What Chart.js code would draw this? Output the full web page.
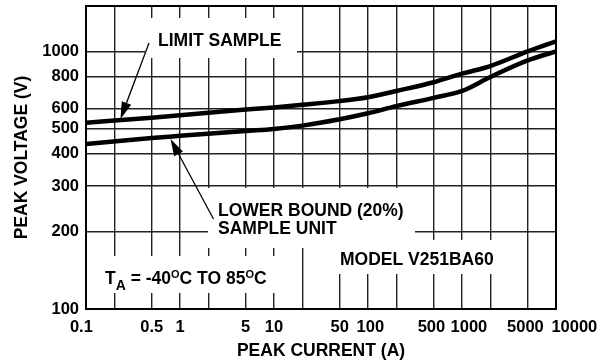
<!DOCTYPE html>
<html><head><meta charset="utf-8">
<script src="https://cdn.jsdelivr.net/npm/chart.js@4.4.1/dist/chart.umd.min.js"></script>
<style>html,body{margin:0;padding:0;background:#fff}</style>
</head><body>
<canvas id="c" width="610" height="362"></canvas>
<script>
// ---- data ----
const peakCurrent = [0.1, 0.5, 1, 5, 10, 20, 50, 100, 200, 500, 1000, 2000, 5000, 10000];
const limitSample = [528, 553, 565, 595, 606, 620, 641, 664, 702, 759, 819, 877, 1000, 1094];
const lowerBound  = [437, 461, 470, 491, 500, 515, 545, 575, 613, 660, 702, 795, 922, 1000];
const xTickValues = [0.1, 0.2, 0.5, 1, 2, 5, 10, 20, 50, 100, 200, 500, 1000, 2000, 5000, 10000];
const xTickLabels = ['0.1', '', '0.5', '1', '', '5', '10', '', '50', '100', '', '500', '1000', '', '5000', '10000'];
const yTickValues = [100, 200, 300, 400, 500, 600, 800, 1000];
const yTickLabels = ['100', '200', '300', '400', '500', '600', '800', '1000'];

const FAM = '"Liberation Sans", Arial, Helvetica, sans-serif';

// style: nudge of x tick labels as in the reference (spaces; + = right, - = left)
const xLabelNudge = [-2, 0, 0, 0, 0, 0, 0, 0, 0, 1, 0, -1, 3, 0, -1, 8];
const nudge = (t, n) => n > 0 ? ' '.repeat(n) + t : n < 0 ? t + ' '.repeat(-n) : t;

// annotation layout (reference-pixel frame, mapped to the chart area)
const REF = {left: 86, top: 6, w: 470, h: 303};
const whiteBoxes = [[145, 18, 297, 58], [208, 188, 415, 248], [323, 240, 505, 274], [98, 256, 290, 293]];

const annot = {
  id: 'annot',
  beforeDatasetsDraw(chart) {
    const ctx = chart.ctx, ca = chart.chartArea;
    const X = px => ca.left + (px - REF.left) * ca.width / REF.w;
    const Y = py => ca.top + (py - REF.top) * ca.height / REF.h;
    ctx.save();
    ctx.fillStyle = '#fff';
    whiteBoxes.forEach(b => ctx.fillRect(X(b[0]), Y(b[1]), X(b[2]) - X(b[0]), Y(b[3]) - Y(b[1])));
    ctx.restore();
  },
  afterDatasetsDraw(chart) {
    const ctx = chart.ctx, ca = chart.chartArea;
    const X = px => ca.left + (px - REF.left) * ca.width / REF.w;
    const Y = py => ca.top + (py - REF.top) * ca.height / REF.h;
    ctx.save();
    // frame
    ctx.strokeStyle = '#000';
    ctx.lineWidth = 2;
    ctx.strokeRect(ca.left, ca.top, ca.width, ca.height);
    // arrows
    const arrow = (x1, y1, x2, y2) => {
      const ax = X(x1), ay = Y(y1), bx = X(x2), by = Y(y2);
      const ang = Math.atan2(by - ay, bx - ax);
      const L = 17, W = 5;
      const cx = bx - L * Math.cos(ang), cy = by - L * Math.sin(ang);
      ctx.lineWidth = 1.3;
      ctx.beginPath(); ctx.moveTo(ax, ay); ctx.lineTo(cx, cy); ctx.stroke();
      ctx.beginPath();
      ctx.moveTo(bx, by);
      ctx.lineTo(cx + W * Math.sin(ang), cy - W * Math.cos(ang));
      ctx.lineTo(cx - W * Math.sin(ang), cy + W * Math.cos(ang));
      ctx.closePath(); ctx.fill();
    };
    ctx.fillStyle = '#000';
    arrow(149, 43, 120.5, 119);
    arrow(213.5, 219, 170.5, 139);
    // texts
    ctx.textBaseline = 'alphabetic';
    ctx.textAlign = 'left';
    const big = 'bold 17.5px ' + FAM;
    ctx.font = big;
    ctx.fillText('LIMIT SAMPLE', X(158), Y(46));
    ctx.fillText('LOWER BOUND (20%)', X(218), Y(216));
    ctx.fillText('SAMPLE UNIT', X(218), Y(233.5));
    ctx.fillText('MODEL V251BA60', X(340), Y(265));
    // T_A = -40°C TO 85°C with sub/superscripts
    let x = X(105);
    const base = Y(284.3);
    const seg = (t, font, dy) => { ctx.font = font; ctx.fillText(t, x, base + dy); x += ctx.measureText(t).width; };
    seg('T', big, 0);
    seg('A', 'bold 14px ' + FAM, 5.5);
    seg(' = -40', big, 0);
    seg('O', 'bold 11px ' + FAM, -6.3);
    seg('C TO 85', big, 0);
    seg('O', 'bold 11px ' + FAM, -6.3);
    seg('C', big, 0);
    ctx.restore();
  }
};

const lineStyle = {borderColor: '#000', borderWidth: 4.5, pointRadius: 0, fill: false, cubicInterpolationMode: 'monotone'};

new Chart(document.getElementById('c'), {
  type: 'line',
  data: {
    datasets: [
      Object.assign({label: 'LIMIT SAMPLE', data: peakCurrent.map((v, i) => ({x: v, y: limitSample[i]}))}, lineStyle),
      Object.assign({label: 'LOWER BOUND (20%) SAMPLE UNIT', data: peakCurrent.map((v, i) => ({x: v, y: lowerBound[i]}))}, lineStyle)
    ]
  },
  options: {
    responsive: false,
    devicePixelRatio: 1,
    animation: false,
    layout: {padding: {top: 6, right: 54, bottom: 0, left: 0}},
    plugins: {legend: {display: false}, tooltip: {enabled: false}},
    scales: {
      x: {
        type: 'logarithmic', min: 0.1, max: 10000,
        afterBuildTicks: s => { s.ticks = xTickValues.map(v => ({value: v})); },
        afterFit: s => { s.height = 53; s.paddingLeft = 0; s.paddingRight = 0; },
        ticks: {autoSkip: false, maxRotation: 0, minRotation: 0, padding: 9, color: '#000',
          font: {family: FAM, size: 16.5, weight: 'bold'},
          callback: (v, i) => nudge(xTickLabels[i], xLabelNudge[i])},
        grid: {color: '#222', lineWidth: 1.4, drawTicks: false},
        border: {display: false},
        title: {display: true, text: 'PEAK CURRENT (A)', color: '#000',
          font: {family: FAM, size: 17.5, weight: 'bold'}, padding: {top: 0, bottom: 0}}
      },
      y: {
        type: 'logarithmic', min: 100, max: 1500,
        afterBuildTicks: s => { s.ticks = yTickValues.map(v => ({value: v})); },
        afterFit: s => { s.width = 86; s.paddingTop = 0; s.paddingBottom = 0; },
        ticks: {autoSkip: false, padding: 7, color: '#000',
          font: {family: FAM, size: 16.5, weight: 'bold'},
          callback: (v, i) => yTickLabels[i]},
        grid: {color: '#222', lineWidth: 1.4, drawTicks: false},
        border: {display: false},
        title: {display: true, text: 'PEAK VOLTAGE (V)', color: '#000',
          font: {family: FAM, size: 17.5, weight: 'bold'}, padding: {top: 12, bottom: 0}}
      }
    }
  },
  plugins: [annot]
});
</script>
</body></html>
